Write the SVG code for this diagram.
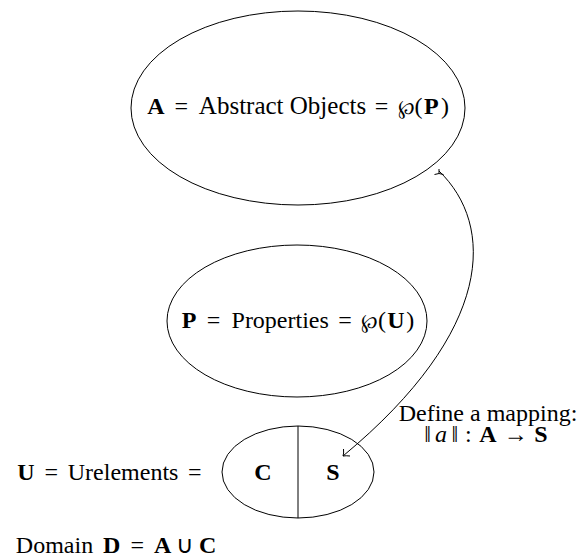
<svg xmlns="http://www.w3.org/2000/svg" width="578" height="558" viewBox="0 0 578 558">
<style>
.sh{fill:none;stroke:#000;stroke-width:1}
.b{font-weight:bold}
.i{font-style:italic}
</style>
<rect width="578" height="558" fill="#fff"/>
<g id="nodeA" font-family="Liberation Serif" font-size="24" text-anchor="middle">
<ellipse class="sh" cx="298" cy="108" rx="167" ry="97"/>
<text font-family="Liberation Serif" font-size="24" class="b" x="156" y="114">A</text>
<text font-family="Liberation Serif" font-size="24" x="181.3" y="114">=</text>
<text font-family="Liberation Serif" font-size="25" x="282.5" y="114">Abstract Objects</text>
<text font-family="Liberation Serif" font-size="24" x="381.5" y="114">=</text>
<text font-family="Liberation Serif" font-size="20" x="406" y="114">℘</text>
<text font-family="Liberation Serif" font-size="24" x="418.5" y="114">(</text>
<text font-family="Liberation Serif" font-size="24" class="b" x="431.4" y="114">P</text>
<text font-family="Liberation Serif" font-size="24" x="445" y="114">)</text>
</g>
<g id="nodeP" font-family="Liberation Serif" font-size="24" text-anchor="middle">
<ellipse class="sh" cx="297" cy="321" rx="130" ry="76"/>
<text font-family="Liberation Serif" font-size="24" class="b" x="189" y="328">P</text>
<text font-family="Liberation Serif" font-size="24" x="213.4" y="328">=</text>
<text font-family="Liberation Serif" font-size="24" x="280.2" y="328">Properties</text>
<text font-family="Liberation Serif" font-size="24" x="345" y="328">=</text>
<text font-family="Liberation Serif" font-size="20" x="369.5" y="328">℘</text>
<text font-family="Liberation Serif" font-size="24" x="381.9" y="328">(</text>
<text font-family="Liberation Serif" font-size="24" class="b" x="395.8" y="328">U</text>
<text font-family="Liberation Serif" font-size="24" x="410.3" y="328">)</text>
</g>
<g id="nodeU" font-family="Liberation Serif" font-size="24" text-anchor="middle">
<ellipse class="sh" cx="298" cy="472" rx="76" ry="46"/>
<line class="sh" x1="298" y1="426" x2="298" y2="518"/>
<text font-family="Liberation Serif" font-size="24" class="b" x="263" y="480">C</text>
<text font-family="Liberation Serif" font-size="24" class="b" x="333" y="480">S</text>
</g>
<g id="labelU" font-family="Liberation Serif" font-size="24" text-anchor="middle">
<text font-family="Liberation Serif" font-size="24" class="b" x="26" y="480">U</text>
<text font-family="Liberation Serif" font-size="24" x="51.3" y="480">=</text>
<text font-family="Liberation Serif" font-size="24" x="123.1" y="480">Urelements</text>
<text font-family="Liberation Serif" font-size="24" x="194.8" y="480">=</text>
</g>
<g id="labelD" font-family="Liberation Serif" font-size="24" text-anchor="middle">
<text font-family="Liberation Serif" font-size="24" x="54.5" y="553">Domain</text>
<text font-family="Liberation Serif" font-size="24" class="b" x="111.7" y="553">D</text>
<text font-family="Liberation Serif" font-size="24" x="137.2" y="553">=</text>
<text font-family="Liberation Serif" font-size="24" class="b" x="162.6" y="553">A</text>
<text font-family="Liberation Serif" font-size="24" x="185.4" y="553">∪</text>
<text font-family="Liberation Serif" font-size="24" class="b" x="207.6" y="553">C</text>
</g>
<g id="labelMap" font-family="Liberation Serif" font-size="24" text-anchor="middle">
<text font-family="Liberation Serif" font-size="24" x="488" y="421">Define a mapping:</text>
<text font-family="Liberation Serif" font-size="24" x="427.5" y="442">‖</text>
<text font-family="Liberation Serif" font-size="24" class="i" x="441.1" y="442">a</text>
<text font-family="Liberation Serif" font-size="24" x="454.8" y="442">‖</text>
<text font-family="Liberation Serif" font-size="24" x="468.3" y="442">:</text>
<text font-family="Liberation Serif" font-size="24" class="b" x="487.9" y="442">A</text>
<text font-family="Liberation Serif" font-size="24" x="515.8" y="442">→</text>
<text font-family="Liberation Serif" font-size="24" class="b" x="541" y="442">S</text>
</g>
<g id="connectors">
<path class="sh" d="M439,171 C495,225 495,330 343,456"/>
<path class="sh" d="M434.5,174.5 Q439,172.5 443.5,174.5 M439,173 L439,169"/>
<path class="sh" d="M343.5,449 Q344,453.5 343,456 Q346,455.5 350,456"/>
</g>
</svg>
